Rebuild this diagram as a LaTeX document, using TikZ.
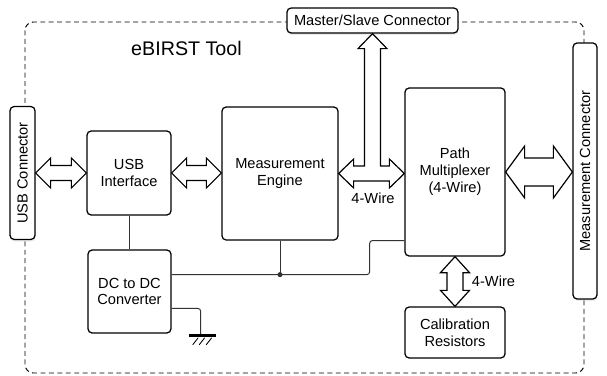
\documentclass[tikz,border=0pt]{standalone}
\usepackage{fontspec}
\setmainfont{Liberation Sans}
\usepackage{tikz}
\usetikzlibrary{positioning, calc, shadows}

% hollow double arrows: tip, tip, shaft half width, head half width, head length
\newcommand{\hflow}[5]{%
  \draw[flow] (#1) -- ($(#1)+(#5,-#4)$) -- ($(#1)+(#5,-#3)$) -- ($(#2)+(-#5,-#3)$) -- ($(#2)+(-#5,-#4)$)
    -- (#2) -- ($(#2)+(-#5,#4)$) -- ($(#2)+(-#5,#3)$) -- ($(#1)+(#5,#3)$) -- ($(#1)+(#5,#4)$) -- cycle;}
\newcommand{\vflow}[5]{%
  \draw[flow] (#1) -- ($(#1)+(#4,#5)$) -- ($(#1)+(#3,#5)$) -- ($(#2)+(#3,-#5)$) -- ($(#2)+(#4,-#5)$)
    -- (#2) -- ($(#2)+(-#4,-#5)$) -- ($(#2)+(-#3,-#5)$) -- ($(#1)+(-#3,#5)$) -- ($(#1)+(-#4,#5)$) -- cycle;}

\begin{document}
\begin{tikzpicture}[x=0.025cm, y=-0.025cm,
    box/.style={draw, rounded corners=3pt, line width=0.9pt, fill=white, align=center, inner sep=2pt},
    conn/.style={box, drop shadow={opacity=0.15, shadow xshift=0.5pt, shadow yshift=-1.5pt}},
    flow/.style={draw, fill=white, line width=0.85pt, line join=miter},
    wire/.style={draw=black!80, line width=0.7pt, rounded corners=2pt},
    font=\fontsize{10.4}{12}\selectfont]
        \useasboundingbox (0,0) rectangle (607,376);

        % Tool outline
        \draw[line width=0.7pt, dash pattern=on 3.5pt off 2.5pt, rounded corners=6pt] (25,22) rectangle (584,373);
        \node[font=\fontsize{14}{16}\selectfont] (title) at (186.5,48) {eBIRST Tool};

        % Connectors
        \node[conn, minimum width=4.275cm, minimum height=0.625cm] (msc) at (372.5,20.5) {Master/Slave Connector};
        \node[conn, minimum width=0.625cm, minimum height=3.325cm, label={[rotate=90]center:USB Connector}] (usbc) at (22.5,173) {};
        \node[conn, minimum width=0.6cm, minimum height=6.4cm, label={[rotate=90]center:Measurement Connector}] (mc) at (585,171) {};

        % Blocks
        \node[box, minimum width=2.1cm, minimum height=2.1cm] (usbi) at (129,173) {USB\\Interface};
        \node[box, minimum width=2.9cm, minimum height=3.325cm] (me) at (280,173.5) {Measurement\\Engine};
        \node[box, minimum width=2.5cm, minimum height=4.2cm] (pm) at (455,172) {Path\\Multiplexer\\(4-Wire)};
        \node[box, minimum width=2.075cm, minimum height=2.075cm] (dcdc) at (129.5,291.5) {DC to DC\\Converter};
        \node[box, minimum width=2.5cm, minimum height=1.275cm] (cal) at (455,332.5) {Calibration\\Resistors};

        % Data paths
        \coordinate (ua) at (usbc.east -| usbi.west);
        \hflow{usbc.east}{ua}{7.5}{15}{15}
        \coordinate (ub) at (usbi.east -| me.west);
        \hflow{usbi.east}{ub}{7.5}{15}{15}
        \coordinate (ma) at (pm.east -| mc.west);
        \hflow{pm.east}{ma}{14}{26}{19}
        \vflow{pm.south}{cal.north}{8}{14.5}{16}

        % Engine to multiplexer, branch to master/slave
        \coordinate (tl) at (me.east);
        \coordinate (tr) at (me.east -| pm.west);
        \coordinate (tj) at (me.east -| msc.south);
        \coordinate (tt) at (msc.south);
        \draw[flow] (tl) -- ($(tl)+(15,-14.5)$) -- ($(tl)+(15,-7.5)$) -- ($(tj)+(-8,-7.5)$) -- ($(tt)+(-8,15)$)
            -- ($(tt)+(-14.5,15)$) -- (tt) -- ($(tt)+(14.5,15)$) -- ($(tt)+(8,15)$) -- ($(tj)+(8,-7.5)$)
            -- ($(tr)+(-15,-7.5)$) -- ($(tr)+(-15,-14.5)$) -- (tr) -- ($(tr)+(-15,14.5)$) -- ($(tr)+(-15,7.5)$)
            -- ($(tl)+(15,7.5)$) -- ($(tl)+(15,14.5)$) -- cycle;
        \node (w1) at (373,198) {4-Wire};
        \node (w2) at (493.5,281) {4-Wire};

        % Power
        \coordinate (pwr) at ($(dcdc.north east)!0.3!(dcdc.south east)$);
        \coordinate (gnd) at ($(dcdc.north east)!0.7!(dcdc.south east)$);
        \coordinate (pmp) at ($(pm.north west)!0.905!(pm.south west)$);
        \coordinate (jn) at (pwr -| me.south);
        \draw[wire] (usbi.south) -- (usbi.south |- dcdc.north);
        \draw[wire] (me.south) -- (jn);
        \draw[wire] (pwr) -- ++(198,0) |- (pmp);
        \fill[black!80] (jn) circle[radius=1.8pt];

        % Ground
        \coordinate (gb) at ($(gnd)+(29,27.5)$);
        \draw[wire] (gnd) -| (gb);
        \draw[line width=2pt] ($(gb)+(-12,0)$) -- ($(gb)+(15,0)$);
        \foreach \dx in {-2.5,4,11}
            \draw[line width=0.6pt] ($(gb)+(\dx,2)$) -- ++(-5.5,7);
    \end{tikzpicture}
\end{document}
